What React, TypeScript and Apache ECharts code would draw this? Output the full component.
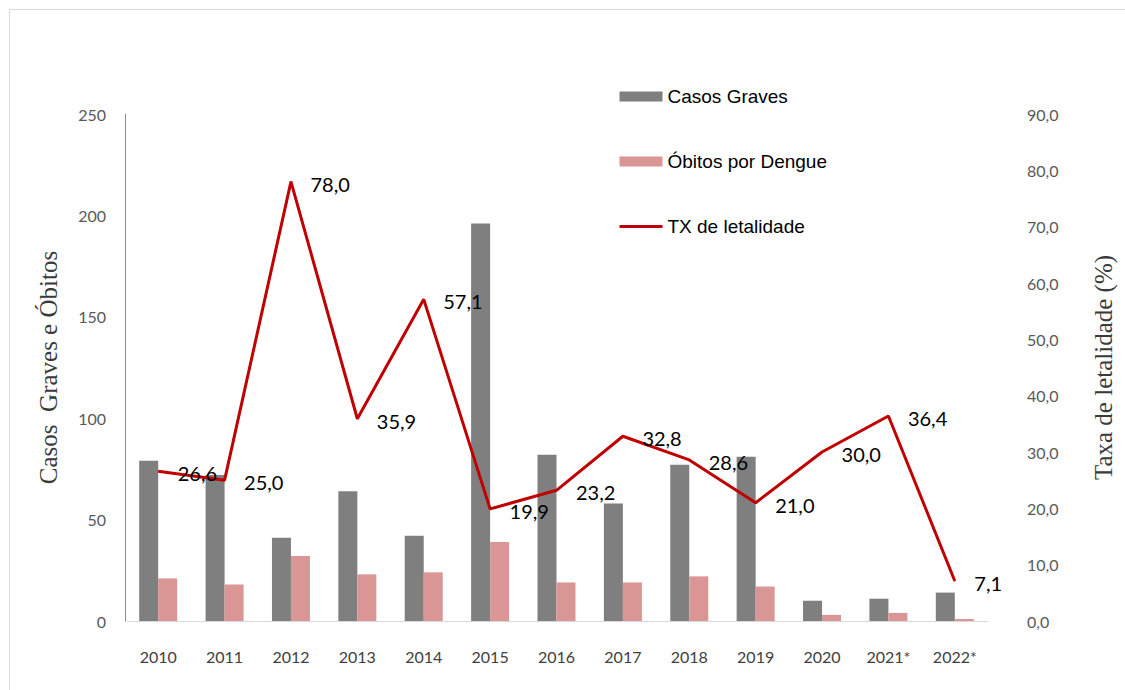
import React, { useEffect, useRef } from "react";
import * as echarts from "echarts";

const categories = ["2010", "2011", "2012", "2013", "2014", "2015", "2016", "2017", "2018", "2019", "2020", "2021*", "2022*"];
const casosGraves = [79, 72, 41, 64, 42, 196, 82, 58, 77, 81, 10, 11, 14];
const obitos = [21, 18, 32, 23, 24, 39, 19, 19, 22, 17, 3, 4, 1];
const taxaLetalidade = [26.6, 25.0, 78.0, 35.9, 57.1, 19.9, 23.2, 32.8, 28.6, 21.0, 30.0, 36.4, 7.1];

const fmt = (v: number) => v.toFixed(1).replace(".", ",");

export default function App() {
  const ref = useRef<HTMLDivElement>(null);
  useEffect(() => {
    if (!ref.current) return;
    const chart = echarts.init(ref.current, undefined, { renderer: "svg" });
    chart.setOption({
      animation: false,
      backgroundColor: "#ffffff",
      graphic: [
        {
          type: "rect",
          shape: { x: 9.5, y: 9.5, width: 1300, height: 900 },
          style: { fill: "none", stroke: "#d9d9d9", lineWidth: 1 },
          silent: true,
        },
      ],
      legend: {
        orient: "vertical",
        left: 618,
        top: 87,
        padding: 0,
        itemWidth: 43,
        itemHeight: 10,
        itemGap: 46,
        textStyle: { fontFamily: "Liberation Sans", fontSize: 19, color: "#000000" },
        data: [
          { name: "Casos Graves", icon: "rect" },
          { name: "Óbitos por Dengue", icon: "rect" },
          {
            name: "TX de letalidade",
            itemStyle: { opacity: 0 },
            lineStyle: { color: "#c00000", width: 3, opacity: 1 },
          },
        ],
      },
      grid: { left: 125, right: 137, top: 114, bottom: 69, containLabel: false },
      xAxis: {
        type: "category",
        data: categories,
        boundaryGap: true,
        axisLine: { show: true, lineStyle: { color: "#d9d9d9", width: 1 } },
        axisTick: { show: false },
        axisLabel: { fontFamily: "Lato", fontSize: 16, color: "#404040", margin: 27 },
      },
      yAxis: [
        {
          type: "value",
          min: 0,
          max: 250,
          interval: 50,
          name: "Casos  Graves e Óbitos",
          nameLocation: "middle",
          nameGap: 64,
          nameTextStyle: { fontFamily: "Liberation Serif", fontSize: 25, color: "#3a3a3a" },
          axisLine: { show: true, lineStyle: { color: "#8c8c8c", width: 1 } },
          axisTick: { show: false },
          splitLine: { show: false },
          axisLabel: { fontFamily: "Lato", fontSize: 16, color: "#595959", margin: 19 },
        },
        {
          type: "value",
          min: 0,
          max: 90,
          interval: 10,
          name: "Taxa de letalidade (%)",
          nameLocation: "middle",
          nameGap: 103,
          nameRotate: 90,
          nameTextStyle: { fontFamily: "Liberation Serif", fontSize: 25, color: "#3a3a3a" },
          axisLine: { show: false },
          axisTick: { show: false },
          splitLine: { show: false },
          axisLabel: {
            fontFamily: "Lato",
            fontSize: 16,
            color: "#595959",
            margin: 39,
            formatter: (v: number) => fmt(v),
          },
        },
      ],
      series: [
        {
          name: "Casos Graves",
          type: "bar",
          data: casosGraves,
          barWidth: 19,
          barGap: "0%",
          itemStyle: { color: "#7f7f7f" },
        },
        {
          name: "Óbitos por Dengue",
          type: "bar",
          data: obitos,
          barWidth: 19,
          barGap: "0%",
          itemStyle: { color: "#d99694" },
        },
        {
          name: "TX de letalidade",
          type: "line",
          yAxisIndex: 1,
          data: taxaLetalidade,
          symbol: "circle",
          symbolSize: 1,
          itemStyle: { color: "#c00000" },
          lineStyle: { color: "#c00000", width: 3 },
          label: {
            show: true,
            position: "right",
            distance: 19,
            offset: [0, 2],
            fontFamily: "Lato",
            fontSize: 20,
            color: "#000000",
            formatter: (p: any) => fmt(p.value),
          },
          z: 5,
        },
      ],
    });
    return () => chart.dispose();
  }, []);
  return (
    <div
      ref={ref}
      style={{ position: "absolute", left: 0, top: 0, width: 1125, height: 690 }}
    />
  );
}
